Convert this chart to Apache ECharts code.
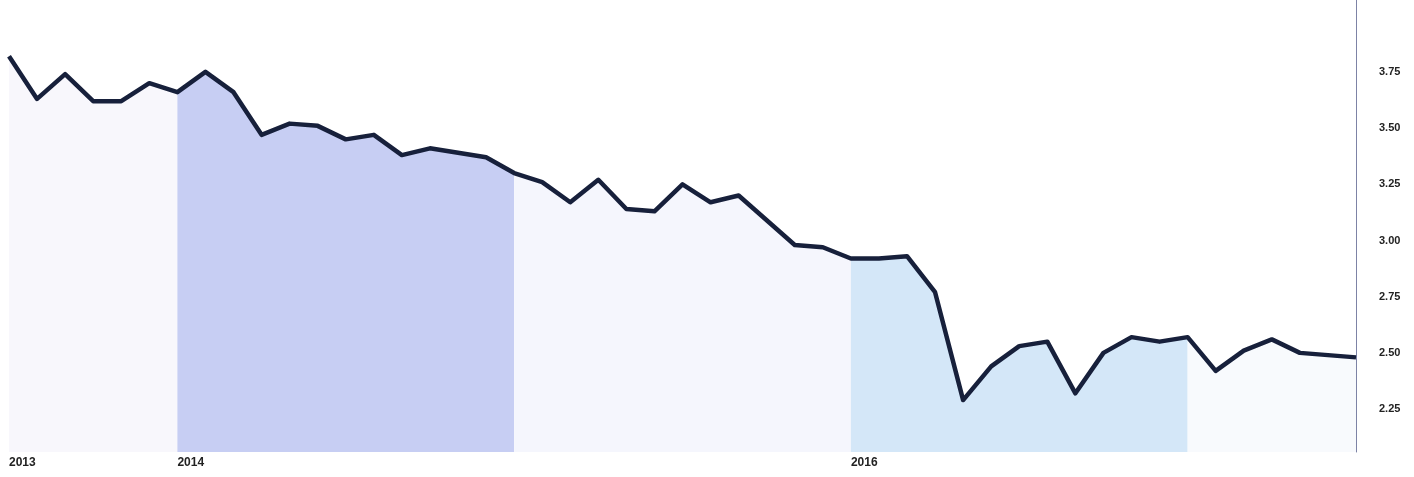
<!DOCTYPE html>
<html>
<head>
<meta charset="utf-8">
<script src="https://cdn.jsdelivr.net/npm/echarts@6/dist/echarts.min.js"></script>
<style>
html,body{margin:0;padding:0;background:#fff;}
#c{width:1414px;height:477px;}
</style>
</head>
<body>
<div id="c"></div>
<script>
// Monthly data, Jul 2013 .. Jul 2017
const categories = [
  '2013-07','2013-08','2013-09','2013-10','2013-11','2013-12',
  '2014-01','2014-02','2014-03','2014-04','2014-05','2014-06','2014-07','2014-08','2014-09','2014-10','2014-11','2014-12',
  '2015-01','2015-02','2015-03','2015-04','2015-05','2015-06','2015-07','2015-08','2015-09','2015-10','2015-11','2015-12',
  '2016-01','2016-02','2016-03','2016-04','2016-05','2016-06','2016-07','2016-08','2016-09','2016-10','2016-11','2016-12',
  '2017-01','2017-02','2017-03','2017-04','2017-05','2017-06','2017-07'
];
const values = [
  3.82,3.63,3.74,3.62,3.62,3.70,
  3.66,3.75,3.66,3.47,3.52,3.51,3.45,3.47,3.38,3.41,3.39,3.37,
  3.30,3.26,3.17,3.27,3.14,3.13,3.25,3.17,3.20,3.09,2.98,2.97,
  2.92,2.92,2.93,2.77,2.29,2.44,2.53,2.55,2.32,2.50,2.57,2.55,
  2.57,2.42,2.51,2.56,2.50,2.49,2.48
];
const yearLabels = {'2013-07':'2013','2014-01':'2014','2016-01':'2016'};
const yTickValues = [2.25,2.50,2.75,3.00,3.25,3.50,3.75];
// shaded bands: [first category, last category]
const bandRanges = [
  ['2013-07','2014-01'],
  ['2014-01','2015-01'],
  ['2015-01','2016-01'],
  ['2016-01','2017-01'],
  ['2017-01','2017-07']
];
const bandColors = ['#f8f7fc','#c7cef3','#f5f6fd','#d4e7f8','#f8fafd'];

const series = bandRanges.map((r, k) => {
  const s = categories.indexOf(r[0]), e = categories.indexOf(r[1]);
  return {
    type: 'line',
    data: values.map((v, i) => (i >= s && i <= e) ? v : '-'),
    symbol: 'none',
    lineStyle: {width: 0, opacity: 0},
    areaStyle: {color: bandColors[k], opacity: 1, origin: 'start'},
    silent: true,
    z: 1
  };
});
series.push({
  type: 'line',
  data: values,
  symbol: 'none',
  lineStyle: {color: '#17203b', width: 4.5, join: 'round'},
  z: 5
});

const chart = echarts.init(document.getElementById('c'));
chart.setOption({
  animation: false,
  backgroundColor: '#fff',
  grid: {left: 9, right: 58, top: 0, bottom: 25, containLabel: false},
  xAxis: {
    type: 'category',
    data: categories,
    boundaryGap: false,
    axisLine: {show: false},
    axisTick: {show: false},
    splitLine: {show: false},
    axisLabel: {
      interval: (i, v) => !!yearLabels[v],
      formatter: v => yearLabels[v] || '',
      align: 'left',
      margin: 5,
      color: '#222',
      fontFamily: 'Liberation Sans, Arial, sans-serif',
      fontWeight: 'bold',
      fontSize: 12
    }
  },
  yAxis: {
    type: 'value',
    position: 'right',
    min: 2.059,
    max: 4.07,
    axisLine: {show: true, lineStyle: {color: '#7d83a6', width: 1}},
    axisTick: {show: false},
    splitLine: {show: false},
    axisLabel: {
      customValues: yTickValues,
      formatter: v => v.toFixed(2),
      margin: 23,
      color: '#222',
      fontFamily: 'Liberation Sans, Arial, sans-serif',
      fontWeight: 'bold',
      fontSize: 11
    }
  },
  series: series
});
</script>
</body>
</html>
